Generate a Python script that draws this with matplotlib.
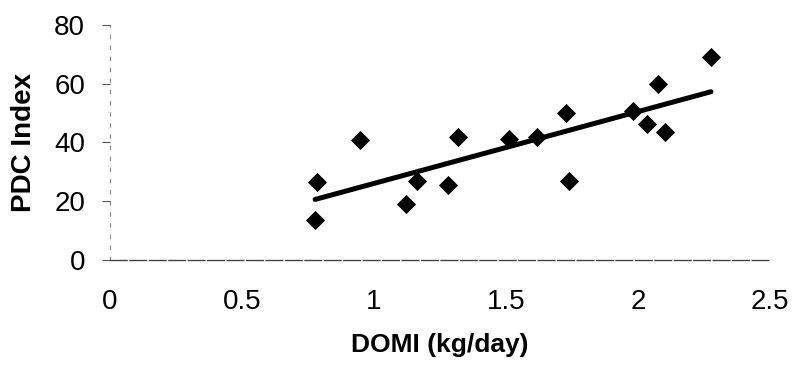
import matplotlib.pyplot as plt
import numpy as np

# DOMI (kg/day) vs PDC index
domi = [0.777, 0.783, 0.947, 1.12, 1.164, 1.279, 1.319, 1.512, 1.618,
        1.727, 1.739, 1.982, 2.034, 2.077, 2.102, 2.277]
pdc = [13.6, 26.4, 41.0, 18.9, 26.9, 25.5, 41.9, 41.2, 41.7,
       50.2, 26.9, 50.7, 46.3, 59.9, 43.4, 69.2]

x_ticks = [0, 0.5, 1, 1.5, 2, 2.5]
x_ticklabels = ['0', '0.5', '1', '1.5', '2', '2.5']
y_ticks = [0, 20, 40, 60, 80]

plt.rcParams['font.family'] = ['Liberation Sans', 'DejaVu Sans']

fig = plt.figure(figsize=(7.92, 3.72), dpi=100)
ax = fig.add_axes([0.139, 0.301, 0.833, 0.632])

ax.scatter(domi, pdc, marker='D', s=95, color='black', linewidths=0, zorder=3)

# linear trend line over the data range
slope, icept = np.polyfit(domi, pdc, 1)
xs = np.array([min(domi), max(domi)])
ax.plot(xs, slope * xs + icept, color='black', lw=3.6, solid_capstyle='round')

ax.set_xlim(0, 2.5)
ax.set_ylim(0, 80)
ax.set_xticks(x_ticks)
ax.set_xticklabels(x_ticklabels)
ax.set_yticks(y_ticks)

for s in ['top', 'right']:
    ax.spines[s].set_visible(False)
ax.spines['left'].set_color('#888888')
ax.spines['left'].set_linewidth(0.8)
ax.spines['left'].set_linestyle((0, (3, 7)))
ax.spines['bottom'].set_color('#444444')
ax.spines['bottom'].set_linewidth(1.0)
ax.spines['bottom'].set_linestyle((0, (12, 2)))

ax.tick_params(axis='y', length=6, width=0.8, color='#555555', labelsize=20, pad=12)
ax.tick_params(axis='x', length=0, labelsize=20, pad=21)

ax.set_xlabel('DOMI (kg/day)', fontsize=19, fontweight='bold', labelpad=13)
ax.set_ylabel('PDC Index', fontsize=20, fontweight='bold', labelpad=12)

fig.savefig('out.png', dpi=100)
